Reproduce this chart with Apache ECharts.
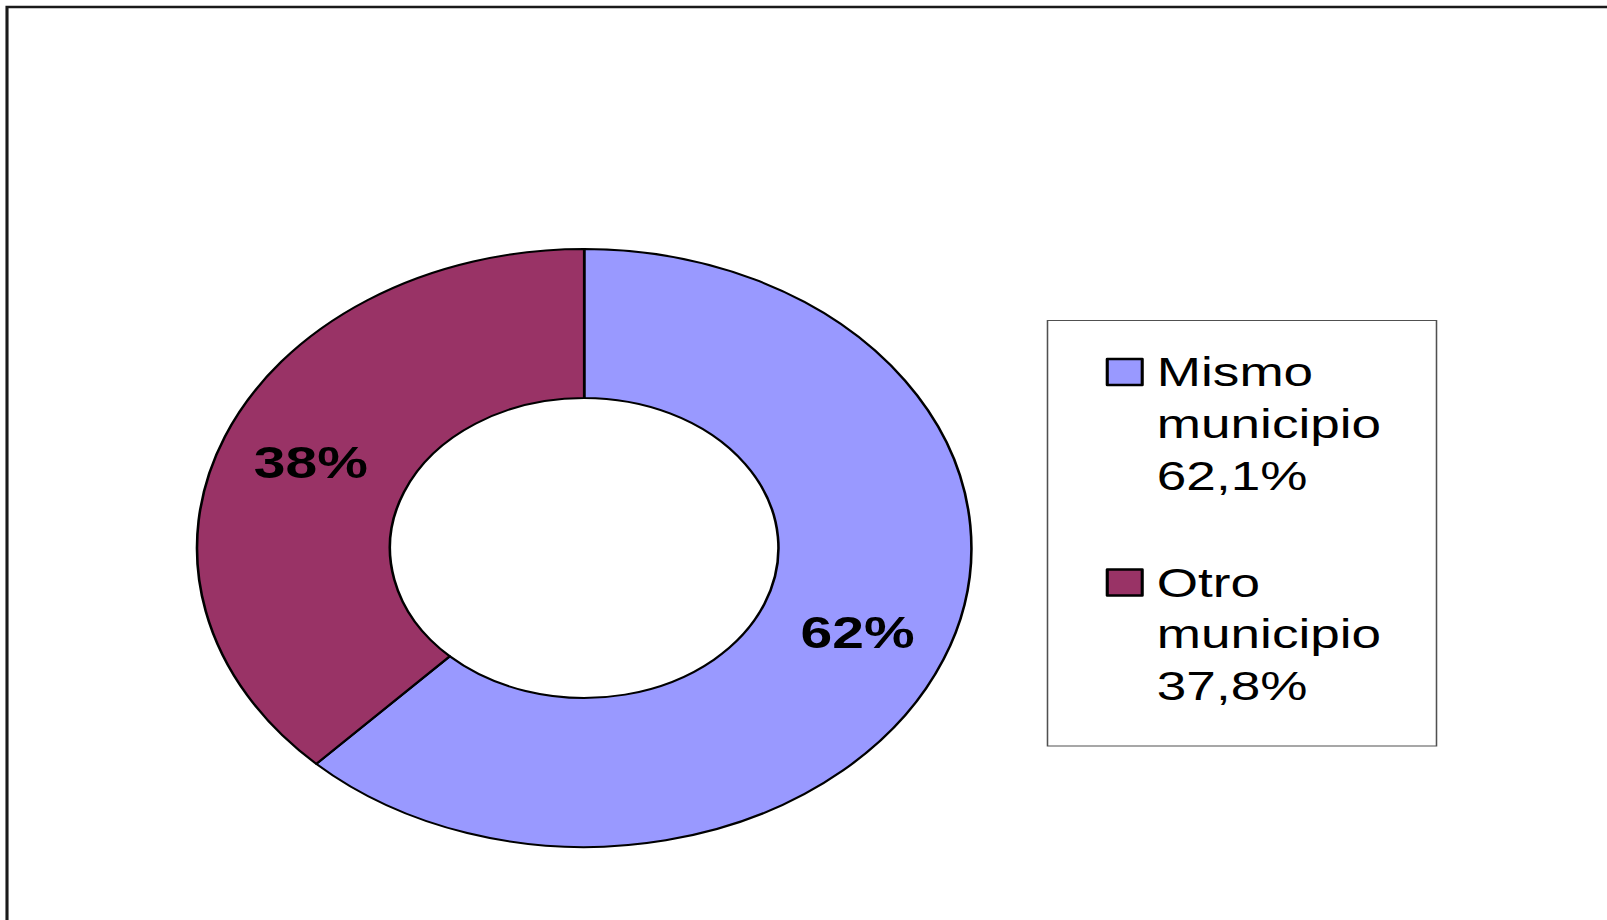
<!DOCTYPE html>
<html><head><meta charset="utf-8">
<script src="https://cdn.jsdelivr.net/npm/echarts@6/dist/echarts.min.js"></script>
<style>
html,body{margin:0;padding:0;width:1607px;height:920px;overflow:hidden;background:#fff;}
#chart{position:absolute;left:0;top:0;width:1241px;height:920px;transform:scaleX(1.295);transform-origin:0 0;}
</style></head><body><div id="chart"></div>
<script>
// Data
const categories = ['Mismo municipio', 'Otro municipio'];
const values = [62.1, 37.8];
const sliceColors = ['#9999FF', '#993366'];

// The original picture is stretched horizontally; the container is scaled by this factor.
const SX = 1.295;
const FONT = "'Liberation Sans', Arial, Helvetica, sans-serif";
const LH = 51.7;

function legendText(name) {
  const i = categories.indexOf(name);
  // two leading empty lines keep the first text line level with the legend swatch
  return '\n\n' + name.replace(' ', '\n') + '\n' + values[i].toFixed(1).replace('.', ',') + '%';
}

const chart = echarts.init(document.getElementById('chart'), null, { renderer: 'svg' });
chart.setOption({
  animation: false,
  backgroundColor: '#ffffff',
  color: sliceColors,
  graphic: [
    { type: 'rect', silent: true, z: 0,
      shape: { x: 7 / SX, y: 7, width: 3000, height: 3000 },
      style: { fill: 'none', stroke: '#1a1a1a', lineWidth: 2.4 } },
    { type: 'rect', silent: true, z: 0,
      shape: { x: 1047.5 / SX, y: 320.5, width: 389 / SX, height: 425.5 },
      style: { fill: 'none', stroke: '#505050', lineWidth: 1.2 } }
  ],
  legend: {
    orient: 'vertical',
    left: 1105.7 / SX,
    top: 372 - 2.5 * LH,
    padding: 0,
    itemGap: -48,
    itemWidth: 27,
    itemHeight: 26,
    icon: 'rect',
    selectedMode: false,
    data: categories,
    formatter: legendText,
    itemStyle: { borderColor: '#000', borderWidth: 2.4 },
    textStyle: {
      fontFamily: FONT, fontSize: 41, color: '#000', lineHeight: LH,
      padding: [0, 0, 0, 6.3]
    }
  },
  series: [{
    type: 'pie',
    center: [584.2 / SX, 548],
    radius: [150, 299],
    startAngle: 90,
    clockwise: true,
    avoidLabelOverlap: false,
    label: {
      show: true,
      position: 'inside',
      formatter: p => Math.round(p.percent) + '%',
      fontFamily: FONT, fontSize: 44, fontWeight: 'bold', color: '#000',
      textBorderWidth: 0
    },
    labelLine: { show: false },
    itemStyle: { borderColor: '#000', borderWidth: 2 },
    emphasis: { disabled: true },
    data: categories.map((c, i) => ({ name: c, value: values[i] }))
  }]
});
</script></body></html>
